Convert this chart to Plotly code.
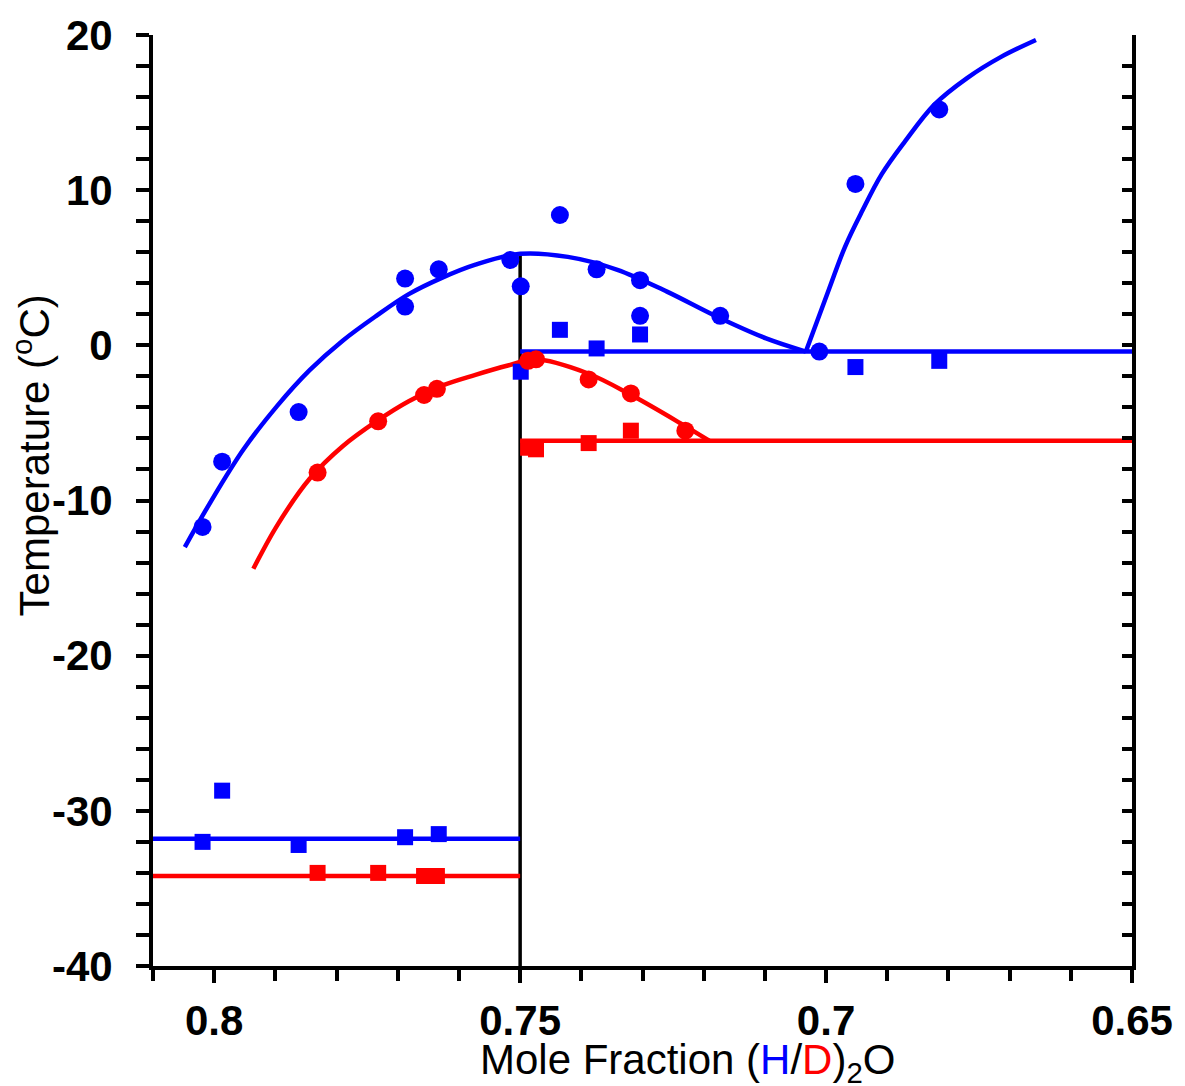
import plotly.graph_objects as go

# ---- data ----
blue_circle_x = [0.8019, 0.7987, 0.7862, 0.7688, 0.7688, 0.7633, 0.7516, 0.7499, 0.7435, 0.7375, 0.7304, 0.7304, 0.7173, 0.7011, 0.6952, 0.6815]
blue_circle_y = [-11.7, -7.5, -4.3, 2.5, 4.3, 4.9, 5.5, 3.8, 8.4, 4.9, 4.2, 1.9, 1.9, -0.4, 10.4, 15.2]

blue_square_x = [0.8019, 0.7987, 0.7862, 0.7688, 0.7633, 0.7499, 0.7435, 0.7375, 0.7304, 0.6952, 0.6815]
blue_square_y = [-32.0, -28.7, -32.2, -31.7, -31.5, -1.7, 1.0, -0.2, 0.7, -1.4, -1.0]

red_circle_x = [0.7831, 0.7732, 0.7657, 0.7636, 0.7487, 0.7474, 0.7388, 0.7319, 0.7230]
red_circle_y = [-8.2, -4.9, -3.2, -2.8, -1.0, -0.9, -2.2, -3.1, -5.5]

red_square_x = [0.7831, 0.7732, 0.7657, 0.7636, 0.7487, 0.7474, 0.7388, 0.7319]
red_square_y = [-34.0, -34.0, -34.2, -34.2, -6.6, -6.7, -6.3, -5.5]

blue_dome_x = [0.8048, 0.8006, 0.7952, 0.7897, 0.7844, 0.7790, 0.7735, 0.7682, 0.7628, 0.7573,
               0.7500, 0.7422, 0.7341, 0.7260, 0.7179, 0.7098, 0.7033]
blue_dome_y = [-13.0, -10.1, -6.7, -3.9, -1.6, 0.3, 1.9, 3.3, 4.35, 5.2,
               5.9, 5.7, 4.87, 3.46, 1.86, 0.45, -0.4]

blue_rise_x = [0.7033, 0.6996, 0.6969, 0.6941, 0.6909, 0.6871, 0.6823, 0.6769, 0.6714, 0.6657]
blue_rise_y = [-0.4, 3.53, 6.35, 8.65, 11.03, 13.14, 15.51, 17.24, 18.59, 19.68]

red_dome_x = [0.7936, 0.7897, 0.7844, 0.7790, 0.7735, 0.7682, 0.7628, 0.7573, 0.7520, 0.7476,
              0.7390, 0.7314, 0.7239, 0.7191]
red_dome_y = [-14.4, -11.6, -8.6, -6.5, -4.9, -3.6, -2.6, -1.9, -1.3, -0.9,
              -1.8, -3.3, -5.0, -6.15]

blue_low_x, blue_low_y = [0.81, 0.75], [-31.8, -31.8]
red_low_x, red_low_y = [0.81, 0.75], [-34.2, -34.2]
blue_high_x, blue_high_y = [0.75, 0.65], [-0.4, -0.4]
red_high_x, red_high_y = [0.75, 0.65], [-6.15, -6.15]
divider_x, divider_y = [0.75, 0.75], [-40, 6.0]

x_tickvals = [0.8, 0.75, 0.7, 0.65]
x_ticktext = ["0.8", "0.75", "0.7", "0.65"]
y_tickvals = [20, 10, 0, -10, -20, -30, -40]
y_ticktext = ["20", "10", "0", "-10", "-20", "-30", "-40"]

BLUE = "#0000FF"
RED = "#FF0000"
FONT = "Liberation Sans, Arial, sans-serif"

fig = go.Figure()

def line(x, y, color, shape="linear", width=4.5):
    fig.add_trace(go.Scatter(x=x, y=y, mode="lines",
                             line=dict(color=color, width=width, shape=shape, smoothing=1),
                             showlegend=False, hoverinfo="skip"))

line(divider_x, divider_y, "black", width=3.5)
line(blue_dome_x, blue_dome_y, BLUE, "spline")
line(blue_rise_x, blue_rise_y, BLUE, "spline")
line(red_dome_x, red_dome_y, RED, "spline")
line(blue_low_x, blue_low_y, BLUE)
line(red_low_x, red_low_y, RED)
line(blue_high_x, blue_high_y, BLUE)
line(red_high_x, red_high_y, RED)

def pts(x, y, color, symbol, size):
    fig.add_trace(go.Scatter(x=x, y=y, mode="markers",
                             marker=dict(color=color, symbol=symbol, size=size, line=dict(width=0)),
                             showlegend=False))

pts(blue_circle_x, blue_circle_y, BLUE, "circle", 18)
pts(blue_square_x, blue_square_y, BLUE, "square", 16)
pts(red_circle_x, red_circle_y, RED, "circle", 18)
pts(red_square_x, red_square_y, RED, "square", 16)

# invisible trace to anchor the right-hand mirror axis
fig.add_trace(go.Scatter(x=[0.7], y=[0], yaxis="y2", mode="markers", marker=dict(opacity=0),
                         showlegend=False, hoverinfo="skip"))

tickfont = dict(family=FONT, size=42, color="black", weight="bold")

fig.update_layout(
    width=1185, height=1086,
    margin=dict(l=153, r=45, t=27, b=120),
    paper_bgcolor="white", plot_bgcolor="white",
    xaxis=dict(range=[0.81, 0.65], showgrid=False, zeroline=False,
               showline=True, linecolor="black", linewidth=4,
               ticks="outside", ticklen=13, tickwidth=3.5, tickcolor="black",
               tickvals=x_tickvals, ticktext=x_ticktext, tickfont=tickfont,
               ticklabelstandoff=2,
               minor=dict(dtick=0.01, ticks="outside", ticklen=11, tickwidth=3.5, tickcolor="black", showgrid=False)),
    yaxis=dict(range=[-40, 20], showgrid=False, zeroline=False,
               showline=True, linecolor="black", linewidth=4,
               ticks="outside", ticklen=13, tickwidth=3.5, tickcolor="black",
               tickvals=y_tickvals, ticktext=y_ticktext, tickfont=tickfont,
               ticklabelstandoff=15,
               minor=dict(dtick=2, ticks="outside", ticklen=13, tickwidth=3.5, tickcolor="black", showgrid=False)),
    yaxis2=dict(range=[-40, 20], overlaying="y", side="right", showgrid=False, zeroline=False,
                showline=True, linecolor="black", linewidth=4,
                ticks="inside", ticklen=10, tickwidth=3.5, tickcolor="black",
                dtick=2, tick0=0, showticklabels=False),
    annotations=[
        dict(text="Mole Fraction (<span style='color:#0000FF'>H</span>/<span style='color:#FF0000'>D</span>)<sub>2</sub>O",
             xref="paper", yref="paper", x=(692 - 153) / 987, y=0, yshift=-96,
             xanchor="center", yanchor="middle", showarrow=False,
             font=dict(family=FONT, size=42, color="black")),
        dict(text="Temperature (<sup>o</sup>C)",
             xref="paper", yref="paper", x=(31 - 153) / 987, y=(966 - 451) / 939,
             xanchor="center", yanchor="middle", textangle=-90, showarrow=False,
             font=dict(family=FONT, size=42, color="black")),
    ],
)

fig.write_html("out.html")
